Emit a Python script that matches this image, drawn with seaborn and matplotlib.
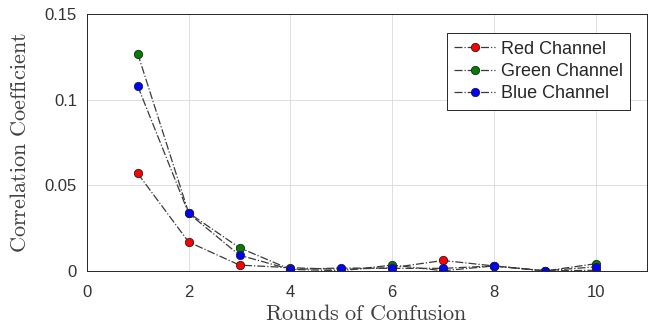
import matplotlib
matplotlib.use("Agg")
import matplotlib.pyplot as plt
import seaborn as sns
import pandas as pd

rounds = [1, 2, 3, 4, 5, 6, 7, 8, 9, 10]
red = [0.057, 0.017, 0.0035, 0.002, 0.001, 0.002, 0.0062, 0.003, 0.0001, 0.0005]
green = [0.127, 0.034, 0.0136, 0.001, 0.0002, 0.0035, 0.0002, 0.003, 0.0001, 0.0043]
blue = [0.108, 0.0337, 0.0093, 0.001, 0.0018, 0.0016, 0.0016, 0.003, 0.0002, 0.0025]
names = ["Red Channel", "Green Channel", "Blue Channel"]
colors = ["#ff0000", "#007f00", "#0000ff"]

sns.set_style("white")
plt.rcParams["font.family"] = ["Liberation Sans", "DejaVu Sans"]
plt.rcParams["mathtext.fontset"] = "cm"

fig = plt.figure(figsize=(6.48, 3.29), dpi=100)
ax = fig.add_axes([0.134, 0.176, 0.864, 0.781])

for name, vals, c in zip(names, [red, green, blue], colors):
    df = pd.DataFrame({"x": rounds, "y": vals})
    sns.lineplot(data=df, x="x", y="y", ax=ax, color="#3a3a3a", linestyle="-.",
                 linewidth=0.9, marker="o", markersize=6, markerfacecolor=c,
                 markeredgecolor="#222222", markeredgewidth=0.6, label=name)

ax.set_xlim(0, 11)
ax.set_ylim(0, 0.15)
ax.set_xticks([0, 2, 4, 6, 8, 10])
ax.set_xticklabels(["0", "2", "4", "6", "8", "10"])
ax.set_yticks([0, 0.05, 0.1, 0.15])
ax.set_yticklabels(["0", "0.05", "0.1", "0.15"])
ax.tick_params(direction="in", length=3, labelsize=12, colors="#333333", width=0.6)
ax.tick_params(axis="x", pad=10)
ax.tick_params(axis="y", pad=7)
ax.grid(True, color="#dedede", linewidth=0.7)
for s in ax.spines.values():
    s.set_color("#262626")
    s.set_linewidth(0.7)
ax.set_xlabel(r"$\mathrm{Rounds\ of\ Confusion}$", fontsize=16, color="#404040", labelpad=3)
ax.set_ylabel(r"$\mathrm{Correlation\ Coefficient}$", fontsize=16, color="#404040", labelpad=10)

leg = ax.legend(loc="upper right", bbox_to_anchor=(0.97, 0.925), fontsize=13,
                frameon=True, fancybox=False, edgecolor="#262626", framealpha=1,
                handlelength=2.3, borderpad=0.4, labelspacing=0.3, handletextpad=0.3,
                borderaxespad=0)
leg.get_frame().set_linewidth(0.7)
for t in leg.get_texts():
    t.set_color("#262626")

fig.savefig("out.png", dpi=100)
